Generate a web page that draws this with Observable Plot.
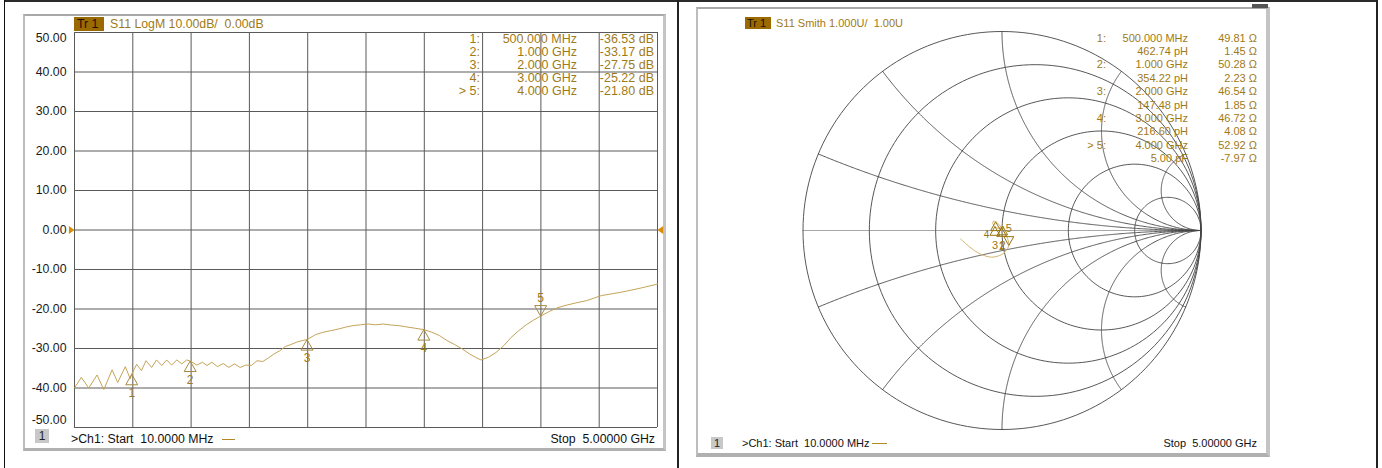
<!DOCTYPE html>
<html><head><meta charset="utf-8">
<script src="https://cdn.jsdelivr.net/npm/d3@7"></script>
<script src="https://cdn.jsdelivr.net/npm/@observablehq/plot@0.6"></script>
<style>
body{margin:0;background:#fff;}
#root{position:relative;width:1382px;height:468px;overflow:hidden;font-family:"Liberation Sans",Arial,sans-serif;}
#root div{position:absolute;box-sizing:border-box;}
.pre{white-space:pre;}
</style></head><body><div id="root"></div>
<script>
// ---------------- data ----------------
const startGHz = 0.01, stopGHz = 5, z0 = 50, refDb = 0;
const freqGHz = [0.010,0.068,0.132,0.203,0.261,0.332,0.380,0.445,0.487,0.5,0.542,0.583,0.622,0.670,0.712,0.757,0.799,0.841,0.886,0.928,0.970,1.0,1.057,1.105,1.144,1.186,1.234,1.283,1.331,1.379,1.428,1.476,1.524,1.572,1.621,1.669,1.717,1.766,1.814,1.862,1.911,1.959,2.0,2.072,2.136,2.201,2.265,2.330,2.394,2.458,2.523,2.587,2.652,2.716,2.781,2.845,2.910,3.0,3.07,3.135,3.199,3.264,3.328,3.393,3.441,3.489,3.554,3.618,3.683,3.747,3.812,3.876,3.940,4.0,4.069,4.134,4.198,4.295,4.391,4.520,4.681,4.842,5.0];
const s11dB = [-40.0,-37.3,-40.0,-36.7,-40.4,-35.4,-38.6,-34.6,-37.7,-36.53,-34.0,-35.6,-33.1,-34.8,-32.9,-34.3,-32.9,-34.2,-32.9,-33.9,-32.9,-33.17,-34.2,-33.5,-34.3,-33.5,-34.6,-33.8,-34.8,-33.9,-34.8,-34.2,-34.3,-33.1,-33.3,-32.4,-31.4,-30.6,-29.5,-29.0,-28.4,-28.0,-27.75,-26.5,-25.9,-25.5,-25.1,-24.6,-24.2,-24.0,-23.8,-24.0,-23.8,-24.05,-24.2,-24.5,-24.8,-25.22,-25.9,-26.75,-28.0,-29.0,-30.1,-31.4,-32.2,-32.9,-32.2,-31.0,-29.3,-27.2,-25.5,-24.0,-22.8,-21.80,-20.7,-19.8,-19.2,-18.5,-17.9,-16.6,-15.8,-14.8,-13.7];
const yTicks = [50,40,30,20,10,0,-10,-20,-30,-40,-50];
const markerIds = [1,2,3,4,5];
const markerFreqGHz = [0.5,1,2,3,4];
const markerFreqText = ["500.000 MHz","1.000 GHz","2.000 GHz","3.000 GHz","4.000 GHz"];
const markerDb = [-36.53,-33.17,-27.75,-25.22,-21.80];
const markerR = [49.81,50.28,46.54,46.72,52.92];
const markerX = [1.45,2.23,1.85,4.08,-7.97];
const markerLC = ["462.74 pH","354.22 pH","147.48 pH","216.60 pH","5.00 pF"];
const smithRe = [-0.010,0.006,-0.008,0.010,-0.006,-0.002,0.010,0.003,-0.010,-0.018,-0.028,-0.036,-0.046,-0.044,-0.032,-0.012,0.012,0.028,0.034,0.018,-0.002,-0.052,-0.111,-0.161,-0.208];
const smithIm = [0.000,0.008,0.010,0.014,0.012,0.0145,0.016,0.022,0.016,0.012,0.014,0.020,0.034,0.046,0.044,0.026,-0.010,-0.040,-0.075,-0.104,-0.121,-0.134,-0.117,-0.084,-0.042];
const rCircles = [0,0.2,0.5,1,2,5];
const xArcs = [0.2,0.5,1,2,5,-0.2,-0.5,-1,-2,-5];

// ---------------- style ----------------
const FONT = '"Liberation Sans", Arial, sans-serif';
const GOLD = "#a07a16", TRACE = "#c4a458", MK = "#a8893e", GRID = "#5a5a5a";
const root = document.getElementById("root");
function div(css, text, cls) {
  const d = document.createElement("div");
  d.style.cssText = css; if (text != null) d.textContent = text; if (cls) d.className = cls;
  root.appendChild(d); return d;
}
const triUp = {draw(c,s){const r=Math.sqrt(s/Math.PI);c.moveTo(0,0);c.lineTo(r,1.75*r);c.lineTo(-r,1.75*r);c.closePath();}};
const triDown = {draw(c,s){const r=Math.sqrt(s/Math.PI);c.moveTo(0,0);c.lineTo(r,-1.75*r);c.lineTo(-r,-1.75*r);c.closePath();}};
const triRight = {draw(c,s){const r=Math.sqrt(s/Math.PI);c.moveTo(0,0);c.lineTo(-1.4*r,-r);c.lineTo(-1.4*r,r);c.closePath();}};
const triLeft = {draw(c,s){const r=Math.sqrt(s/Math.PI);c.moveTo(0,0);c.lineTo(1.4*r,-r);c.lineTo(1.4*r,r);c.closePath();}};

// ---------------- table borders & panel frames ----------------
div("left:4px;top:0;width:1374px;height:2px;background:#2a2a2a;");
div("left:4px;top:0;width:1px;height:468px;background:#111;");
div("left:677px;top:0;width:2px;height:468px;background:#222;");
div("left:1376px;top:0;width:2px;height:468px;background:#222;");
div("left:23px;top:14px;width:643px;height:437px;background:#fff;border-left:2px solid #bdbdbd;border-top:2px solid #a8a8a8;border-right:3px solid #c4c4c4;border-bottom:3px solid #b0b0b0;");
div("left:696px;top:7px;width:574px;height:450px;background:#fff;border-left:2px solid #bdbdbd;border-top:2px solid #a8a8a8;border-right:4px solid #c4c4c4;border-bottom:4px solid #b0b0b0;");
div("left:1252px;top:4px;width:16px;height:4px;background:#555;");

// ---------------- LogM chart ----------------
const logData = freqGHz.map((f, i) => ({f, db: s11dB[i]}));
const markers = markerIds.map((id, i) => ({id, f: markerFreqGHz[i], db: markerDb[i]}));
const divisions = d3.range(11).map(i => startGHz + (stopGHz - startGHz) * i / 10);
const midTicks = yTicks.slice(1, -1);
const tickTxt = {frameAnchor: "left", textAnchor: "end", dx: -8, fontSize: 12.3, fill: "#1a1a1a", text: d => d.toFixed(2), y: d => d};
const logPlot = Plot.plot({
  width: 641, height: 434, marginLeft: 50, marginRight: 8, marginTop: 17, marginBottom: 22,
  style: {background: "transparent", fontFamily: FONT, overflow: "visible"},
  x: {domain: [startGHz, stopGHz], axis: null},
  y: {domain: [-50, 50], axis: null},
  marks: [
    Plot.ruleX(divisions, {stroke: GRID, strokeWidth: 1}),
    Plot.ruleY(yTicks, {stroke: GRID, strokeWidth: 1}),
    Plot.text(midTicks, tickTxt),
    Plot.text([yTicks[0]], {...tickTxt, dy: 6}),
    Plot.text([yTicks[yTicks.length - 1]], {...tickTxt, dy: -7}),
    Plot.line(logData, {x: "f", y: "db", stroke: TRACE, strokeWidth: 1}),
    Plot.dot(markers.filter(m => m.id < 5), {x: "f", y: "db", symbol: triUp, r: 6, stroke: MK, fill: "none", strokeWidth: 1}),
    Plot.dot(markers.filter(m => m.id === 5), {x: "f", y: "db", symbol: triDown, r: 6, stroke: MK, fill: "none", strokeWidth: 1}),
    Plot.text(markers.filter(m => m.id < 5), {x: "f", y: "db", text: "id", dy: 19, fill: GOLD, fontSize: 12}),
    Plot.text(markers.filter(m => m.id === 5), {x: "f", y: "db", text: "id", dy: -18, fill: GOLD, fontSize: 12}),
    Plot.dot([refDb], {x: () => startGHz, y: d => d, symbol: triRight, r: 4, fill: "#d98c0a", stroke: "none"}),
    Plot.dot([refDb], {x: () => stopGHz, y: d => d, symbol: triLeft, r: 4, fill: "#d98c0a", stroke: "none"})
  ]
});
logPlot.style.position = "absolute"; logPlot.style.left = "24px"; logPlot.style.top = "15px";
root.appendChild(logPlot);

// LogM texts
div("left:74px;top:17px;width:30px;height:14px;background:#9a6a00;color:#1a1000;font-size:12.3px;line-height:14px;padding-left:3px;", "Tr 1", "pre");
div("left:110px;top:17px;height:14px;color:" + GOLD + ";font-size:12.3px;line-height:14px;", "S11 LogM 10.00dB/  0.00dB", "pre");
const logCol1 = markerIds.map(id => (id === 5 ? "> " : "") + id + ":").join("\n");
const logCol2 = markerFreqText.join("\n");
const logCol3 = markerDb.map(v => v.toFixed(2) + " dB").join("\n");
const tbl = "color:" + GOLD + ";font-size:12.5px;line-height:13px;text-align:right;top:32.5px;";
div(tbl + "left:420px;width:60px;", logCol1, "pre");
div(tbl + "left:467px;width:110px;", logCol2, "pre");
div(tbl + "left:574px;width:80px;", logCol3, "pre");
div("left:35px;top:429px;width:14px;height:14px;background:#c8c8c8;color:#222;font-size:12px;line-height:14px;text-align:center;", "1");
div("left:71px;top:432px;height:14px;color:#111;font-size:12.3px;line-height:14px;", ">Ch1: Start  10.0000 MHz", "pre");
div("left:222px;top:438.5px;width:13px;height:1.5px;background:#b08a20;");
div("left:455px;top:432px;width:200px;height:14px;color:#111;font-size:12.3px;line-height:14px;text-align:right;", "Stop  5.00000 GHz", "pre");

// ---------------- Smith chart ----------------
function gammaOf(r, x) { // normalized z = r + jx  ->  reflection coefficient
  const a = r - 1, c = r + 1, den = c * c + x * x;
  return {re: (a * c + x * x) / den, im: (x * c - a * x) / den};
}
const rGrid = rCircles.flatMap(r => d3.range(0, 361, 2).map(deg => {
  const t = deg * Math.PI / 180, cx = r / (1 + r), rad = 1 / (1 + r);
  return {k: "r" + r, re: cx + rad * Math.cos(t), im: rad * Math.sin(t)};
}));
const xGrid = xArcs.flatMap(x => d3.range(0, 1.5708, 0.004).map(p => Math.tan(p)).concat([1e7])
  .map(t => ({k: "x" + x, ...gammaOf(t, x)})));
const smithData = smithRe.map((re, i) => ({re, im: smithIm[i]}));
const smithMarkers = markerIds.map((id, i) => ({id, ...gammaOf(markerR[i] / z0, markerX[i] / z0)}));
const SM = "#9a7410";
const smithPlot = Plot.plot({
  width: 567, height: 443, marginLeft: 104.5, marginRight: 64.5, marginTop: 22, marginBottom: 23,
  style: {background: "transparent", fontFamily: FONT, overflow: "visible"},
  x: {domain: [-1, 1], axis: null},
  y: {domain: [-1, 1], axis: null},
  marks: [
    Plot.ruleY([0], {x1: -1, x2: 1, stroke: "#a8a8a8", strokeWidth: 1.2}),
    Plot.line(rGrid, {x: "re", y: "im", z: "k", stroke: "#444", strokeWidth: 0.9}),
    Plot.line(xGrid, {x: "re", y: "im", z: "k", stroke: "#444", strokeWidth: 0.9}),
    Plot.line(smithData, {x: "re", y: "im", stroke: "#d2b470", strokeWidth: 1, curve: "catmull-rom"}),
    Plot.dot(smithMarkers.filter(m => m.id < 5), {x: "re", y: "im", symbol: triUp, r: 5, stroke: SM, fill: "none", strokeWidth: 1}),
    Plot.dot(smithMarkers.filter(m => m.id === 5), {x: "re", y: "im", symbol: triDown, r: 5, stroke: SM, fill: "none", strokeWidth: 1}),
    Plot.text(smithMarkers.filter(m => m.id < 4), {x: "re", y: "im", text: "id", dy: 19, fill: SM, fontSize: 11}),
    Plot.text(smithMarkers.filter(m => m.id === 4), {x: "re", y: "im", text: "id", dx: -9, dy: 13, fill: SM, fontSize: 10}),
    Plot.text(smithMarkers.filter(m => m.id === 5), {x: "re", y: "im", text: "id", dy: -17, fill: SM, fontSize: 11})
  ]
});
smithPlot.style.position = "absolute"; smithPlot.style.left = "698px"; smithPlot.style.top = "9px";
root.appendChild(smithPlot);

// Smith texts
div("left:745px;top:17px;width:26px;height:12px;background:#9a6a00;color:#1a1000;font-size:11px;line-height:12px;padding-left:2px;", "Tr 1", "pre");
div("left:776px;top:17px;height:12px;color:" + GOLD + ";font-size:11px;line-height:12px;", "S11 Smith 1.000U/  1.00U", "pre");
const sCol1 = markerIds.map(id => (id === 5 ? "> " : "") + id + ":").join("\n\n");
const sCol2 = markerIds.map((id, i) => markerFreqText[i] + "\n" + markerLC[i]).join("\n");
const sCol3 = markerIds.map((id, i) => markerR[i].toFixed(2) + " Ω\n" + markerX[i].toFixed(2) + " Ω").join("\n");
const stbl = "color:" + GOLD + ";font-size:11px;line-height:13.4px;text-align:right;top:31.6px;";
div(stbl + "left:1056px;width:50px;", sCol1, "pre");
div(stbl + "left:1088px;width:100px;", sCol2, "pre");
div(stbl + "left:1187px;width:70px;", sCol3, "pre");
div("left:711px;top:437px;width:12px;height:12px;background:#c8c8c8;color:#222;font-size:11px;line-height:12px;text-align:center;", "1");
div("left:742px;top:436px;height:14px;color:#111;font-size:11px;line-height:14px;", ">Ch1: Start  10.0000 MHz", "pre");
div("left:872px;top:442.5px;width:15px;height:1.5px;background:#b08a20;");
div("left:1057px;top:436px;width:200px;height:14px;color:#111;font-size:11px;line-height:14px;text-align:right;", "Stop  5.00000 GHz", "pre");
</script>
</body></html>
